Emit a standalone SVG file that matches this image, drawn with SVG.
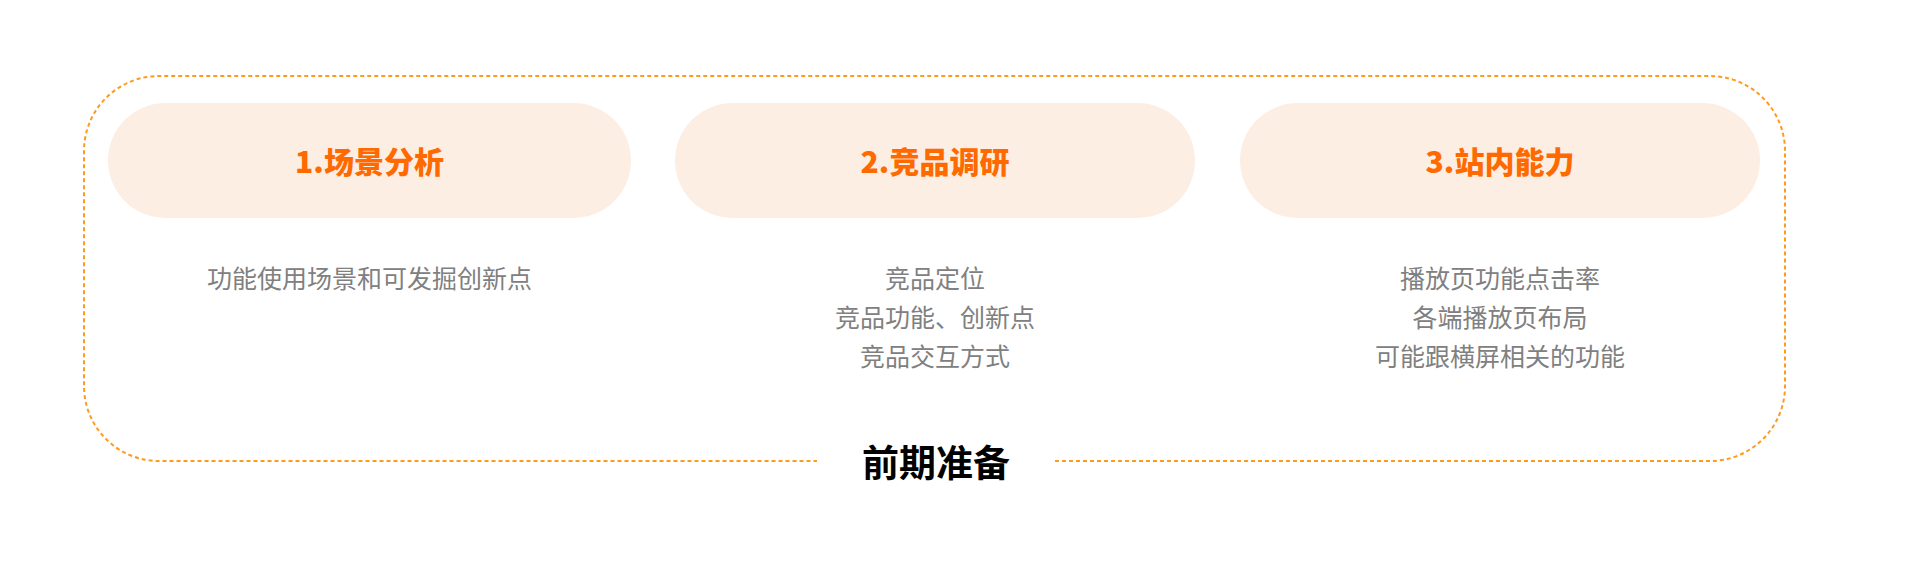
<svg xmlns="http://www.w3.org/2000/svg" width="1920" height="575" viewBox="0 0 1920 575">
<style>
.frame{fill:none;stroke:#FF9A1F;stroke-width:2;stroke-dasharray:4 3}
.pill{fill:#FDEEE4}
.ttl{font-family:"Noto Sans CJK SC","Liberation Sans",sans-serif;font-size:30px;font-weight:900;fill:#FF6A00;text-anchor:middle;dominant-baseline:central}
.body{font-family:"Noto Sans CJK SC","Liberation Sans",sans-serif;font-size:25px;fill:#808080;text-anchor:middle;dominant-baseline:central}
.main{font-family:"Noto Sans CJK SC","Liberation Sans",sans-serif;font-size:37px;font-weight:700;fill:#000;text-anchor:middle;dominant-baseline:central}
</style>
<rect width="1920" height="575" fill="#fff"/>
<g id="frame">
<path class="frame" d="M1055,461 H1710 A75,75 0 0 0 1785,386 V151 A75,75 0 0 0 1710,76 H159 A75,75 0 0 0 84,151 V386 A75,75 0 0 0 159,461 H817"/>
<text class="main" x="936" y="461">前期准备</text>
</g>
<g id="node1">
<rect class="pill" x="108" y="103" width="523" height="115" rx="57.5"/>
<text class="ttl" x="369.5" y="160">1.场景分析</text>
<text class="body" x="369.5" y="277">功能使用场景和可发掘创新点</text>
</g>
<g id="node2">
<rect class="pill" x="675" y="103" width="520" height="115" rx="57.5"/>
<text class="ttl" x="935" y="160">2.竞品调研</text>
<text class="body" x="935" y="277">竞品定位</text>
<text class="body" x="935" y="316">竞品功能、创新点</text>
<text class="body" x="935" y="355">竞品交互方式</text>
</g>
<g id="node3">
<rect class="pill" x="1240" y="103" width="520" height="115" rx="57.5"/>
<text class="ttl" x="1500" y="160">3.站内能力</text>
<text class="body" x="1500" y="277">播放页功能点击率</text>
<text class="body" x="1500" y="316">各端播放页布局</text>
<text class="body" x="1500" y="355">可能跟横屏相关的功能</text>
</g>
<g id="connectors"></g>
</svg>
